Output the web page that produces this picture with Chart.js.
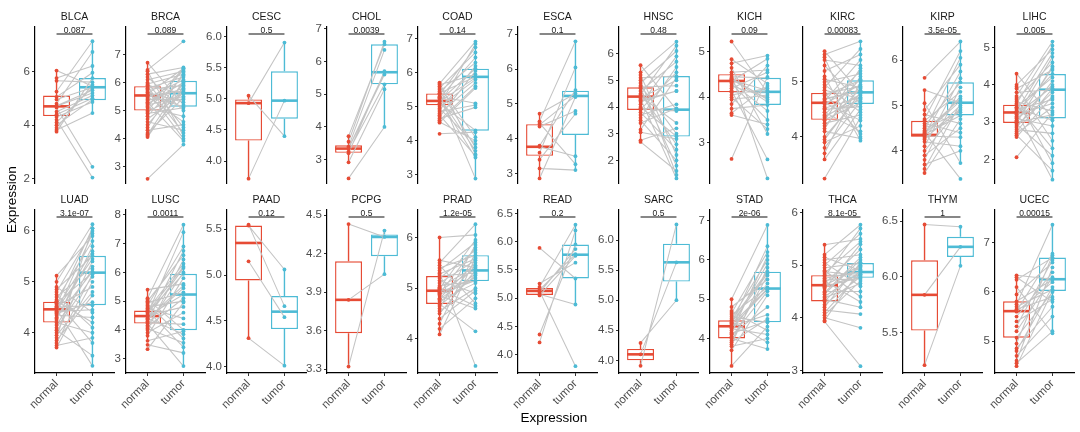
<!DOCTYPE html>
<html>
<head>
<meta charset="utf-8">
<script src="https://cdn.jsdelivr.net/npm/chart.js@4.4.1/dist/chart.umd.min.js"></script>
<style>
  html, body { margin: 0; padding: 0; background: #fff; }
  body { width: 1080px; height: 432px; position: relative; overflow: hidden; font-family: "Liberation Sans", Arial, sans-serif; }
  canvas { position: absolute; }
  .ytitle { position: absolute; left: 4px; top: 166px; width: 16px; height: 68px; writing-mode: vertical-rl; transform: rotate(180deg); font-size: 13.5px; line-height: 16px; text-align: center; color: #000; white-space: nowrap; }
  .xtitle { position: absolute; left: 504px; top: 410px; width: 100px; text-align: center; font-size: 13.5px; line-height: 16px; color: #000; white-space: nowrap; }
</style>
</head>
<body>
<script>
// ---------------- DATA ----------------
const GROUPS = ['normal', 'tumor'];
const CANCERS = ['BLCA','BRCA','CESC','CHOL','COAD','ESCA','HNSC','KICH','KIRC','KIRP','LIHC',
                 'LUAD','LUSC','PAAD','PCPG','PRAD','READ','SARC','STAD','THCA','THYM','UCEC'];
const P_LABELS = ['0.087','0.089','0.5','0.0039','0.14','0.1','0.48','0.09','0.00083','3.5e-05','0.005',
                  '3.1e-07','0.0011','0.12','0.5','1.2e-05','0.2','0.5','2e-06','8.1e-05','1','0.00015'];

// box stats: [lower whisker, q1, median, q3, upper whisker]
const BLCA_normal = [6.03,5.75,5.65,5.25,5.05,4.95,4.8,4.72,4.7,4.65,4.5,4.4,4.3,4.2,4.1,4.0,3.9,3.82,3.76];
const BLCA_tumor  = [5.45,6.2,5.6,7.12,5.95,5.4,6.72,5.3,5.2,2.45,5.1,5.0,4.86,2.05,5.4,4.95,5.5,4.45,5.75];
const BLCA_boxNormal = [3.76,4.34,4.70,5.10,6.03];
const BLCA_boxTumor  = [4.45,4.93,5.41,5.75,7.12];
const BLCA_yTicks = ['2','4','6'];
const BLCA_yRange = [1.85,7.65];

const BRCA_normal = [6.71,6.45,6.4,6.3,6.2,6.1,6.0,5.95,5.9,5.85,5.8,5.75,5.7,5.65,5.6,5.55,5.5,5.45,5.4,5.35,5.3,5.25,5.2,5.1,5.0,4.95,4.9,4.8,4.7,4.6,4.5,4.4,4.3,4.2,4.15,4.1,4.06,5.55,5.15,2.57];
const BRCA_tumor  = [5.2,7.47,4.1,6.54,5.0,6.4,4.4,6.3,5.6,4.2,6.2,5.9,4.0,5.3,6.5,5.7,4.6,6.1,5.4,5.8,3.92,6.0,5.5,4.8,6.45,5.65,5.1,6.25,5.62,4.3,5.95,6.35,4.5,5.45,6.06,5.75,5.85,5.14,6.5,3.79];
const BRCA_boxNormal = [4.06,5.0,5.54,5.87,6.71];
const BRCA_boxTumor  = [3.92,5.14,5.62,6.06,6.54];
const BRCA_yTicks = ['3','4','5','6','7'];
const BRCA_yRange = [2.42,7.98];

const CESC_normal = [4.93,5.05,3.72];
const CESC_tumor  = [5.9,4.4,4.97];
const CESC_boxNormal = [3.72,4.33,4.93,4.99,5.05];
const CESC_boxTumor  = [4.4,4.68,4.97,5.44,5.9];
const CESC_yTicks = ['4.0','4.5','5.0','5.5','6.0'];
const CESC_yRange = [3.65,6.15];

const CHOL_normal = [3.72,3.55,3.4,3.35,3.34,3.25,3.2,2.92,2.43];
const CHOL_tumor  = [6.52,6.6,6.35,5.67,5.6,5.3,5.7,5.15,4.0];
const CHOL_boxNormal = [2.92,3.21,3.34,3.44,3.75];
const CHOL_boxTumor  = [4.0,5.30,5.67,6.52,6.6];
const CHOL_yTicks = ['3','4','5','6','7'];
const CHOL_yRange = [2.29,7.05];

const COAD_normal = [5.71,5.68,5.65,5.6,5.55,5.5,5.45,5.4,5.38,5.35,5.3,5.25,5.2,5.17,5.15,5.1,5.05,5.0,4.95,4.9,4.85,4.8,4.75,4.7,4.65,4.6,4.55,4.53,5.28,4.2];
const COAD_tumor  = [3.6,6.92,5.95,4.1,6.6,3.8,6.3,5.88,2.88,6.75,5.1,6.45,3.5,6.12,5.85,4.3,6.85,5.8,3.9,6.2,5.05,5.7,3.55,6.05,4.98,5.6,4.0,5.55,3.7,4.25];
const COAD_boxNormal = [4.53,5.04,5.17,5.39,5.71];
const COAD_boxTumor  = [2.88,4.29,5.88,6.12,6.92];
const COAD_yTicks = ['3','4','5','6','7'];
const COAD_yRange = [2.75,7.35];

const ESCA_normal = [4.72,4.5,4.45,4.4,4.35,3.8,3.77,3.6,3.4,3.15,2.86];
const ESCA_tumor  = [5.3,6.8,3.27,5.23,4.8,5.4,3.5,6.05,4.72,3.1,5.2];
const ESCA_boxNormal = [2.86,3.51,3.77,4.42,4.72];
const ESCA_boxTumor  = [3.1,4.11,5.23,5.38,6.8];
const ESCA_yTicks = ['3','4','5','6','7'];
const ESCA_yRange = [2.73,7.21];

const HNSC_normal = [5.57,5.3,5.2,5.1,5.0,4.9,4.8,4.75,4.7,4.6,4.5,4.45,4.4,4.35,4.3,4.2,4.1,4.0,3.95,3.9,3.8,3.7,3.6,3.5,3.4,3.15,3.05,2.75,2.69,4.25];
const HNSC_tumor  = [3.9,6.45,2.2,5.16,1.45,6.1,3.0,4.8,1.8,5.7,2.6,6.3,3.4,5.0,1.32,4.6,5.9,2.9,3.85,5.3,2.4,4.1,5.5,2.0,3.95,5.1,2.8,3.2,1.6,4.6];
const HNSC_boxNormal = [2.69,3.89,4.39,4.74,5.57];
const HNSC_boxTumor  = [1.32,2.89,3.90,5.16,6.45];
const HNSC_yTicks = ['2','3','4','5','6'];
const HNSC_yRange = [1.15,7.0];

const KICH_normal = [5.23,4.84,4.75,4.65,4.55,4.5,4.45,4.4,4.38,4.36,4.3,4.25,4.2,4.15,4.11,4.05,4.0,3.95,3.85,3.75,3.65,3.61,4.42,4.33,2.64];
const KICH_tumor  = [4.1,4.3,4.92,3.19,4.6,2.21,4.43,3.9,4.15,4.85,3.5,4.0,4.55,2.63,4.12,4.2,3.3,4.05,4.7,3.83,4.25,3.4,3.95,3.7,4.45];
const KICH_boxNormal = [3.61,4.11,4.36,4.51,4.84];
const KICH_boxTumor  = [3.19,3.83,4.12,4.43,4.92];
const KICH_yTicks = ['3','4','5'];
const KICH_yRange = [2.11,5.55];

const KIRC_normal = [5.56,5.5,5.45,5.4,5.3,5.2,5.1,5.05,5.0,4.95,4.9,4.85,4.8,4.75,4.7,4.65,4.62,4.6,4.55,4.5,4.45,4.4,4.35,4.31,4.3,4.25,4.2,4.15,4.1,4.0,3.95,3.9,3.8,3.7,3.59,4.68,4.52,4.78,4.38,3.24];
const KIRC_tumor  = [4.8,5.74,4.0,5.3,4.6,5.5,3.93,4.9,5.15,4.45,5.6,4.7,4.05,5.03,4.83,5.4,4.3,4.95,5.2,4.55,4.1,5.05,4.78,4.62,5.25,4.4,4.88,5.1,3.97,4.75,4.81,4.2,4.65,5.0,4.5,4.85,4.72,4.92,4.68,4.35];
const KIRC_boxNormal = [3.59,4.31,4.62,4.80,5.56];
const KIRC_boxTumor  = [3.93,4.60,4.81,5.03,5.74];
const KIRC_yTicks = ['4','5'];
const KIRC_yRange = [3.16,6.0];

const KIRP_normal = [5.61,5.34,5.05,4.9,4.8,4.7,4.66,4.6,4.55,4.5,4.45,4.4,4.38,4.36,4.35,4.33,4.31,4.25,4.2,4.1,4.0,3.9,3.8,3.7,3.6,3.51,4.42,4.28];
const KIRP_tumor  = [6.41,5.06,3.73,5.9,4.6,6.2,5.3,4.4,5.51,4.85,6.05,3.38,5.1,4.78,5.75,4.3,5.2,5.0,4.1,5.6,4.95,4.5,5.4,4.0,5.05,4.7,5.15,4.9];
const KIRP_boxNormal = [3.51,4.31,4.35,4.66,5.36];
const KIRP_boxTumor  = [3.73,4.78,5.06,5.51,6.41];
const KIRP_yTicks = ['4','5','6'];
const KIRP_yRange = [3.29,6.73];

const LIHC_normal = [4.30,4.0,3.95,3.9,3.8,3.7,3.65,3.6,3.55,3.5,3.47,3.4,3.35,3.3,3.28,3.26,3.2,3.15,3.1,3.05,3.0,2.98,2.95,2.9,2.85,2.8,2.75,2.7,2.65,2.6,3.38,3.22,3.12,3.02,2.06];
const LIHC_tumor  = [3.1,4.95,2.5,4.4,3.87,5.16,1.9,4.6,3.3,5.05,2.3,4.2,3.6,4.85,1.46,4.29,3.5,4.75,2.9,4.0,3.2,4.5,2.1,3.8,4.1,2.7,3.9,3.4,1.7,3.7,3.05,3.95,3.65,4.45,3.25];
const LIHC_boxNormal = [2.6,2.98,3.26,3.47,4.30];
const LIHC_boxTumor  = [1.46,3.10,3.87,4.29,5.16];
const LIHC_yTicks = ['2','3','4','5'];
const LIHC_yRange = [1.37,5.55];

const LUAD_normal = [5.12,5.0,4.9,4.85,4.8,4.75,4.7,4.65,4.61,4.58,4.55,4.5,4.48,4.46,4.45,4.4,4.35,4.3,4.25,4.2,4.15,4.1,4.05,4.0,3.95,3.9,3.85,3.8,3.75,3.71,4.52,4.38,4.28,4.62,4.42];
const LUAD_tumor  = [5.9,6.13,4.4,5.51,6.0,4.1,5.3,5.8,3.8,5.18,6.05,4.54,5.6,3.35,5.45,5.95,4.3,5.2,5.7,4.0,5.25,5.1,3.55,5.4,4.8,6.05,4.73,5.15,3.9,5.0,4.9,4.6,5.55,4.2,4.45];
const LUAD_boxNormal = [3.71,4.20,4.46,4.61,5.12];
const LUAD_boxTumor  = [3.35,4.54,5.18,5.51,6.13];
const LUAD_yTicks = ['4','5','6'];
const LUAD_yRange = [3.21,6.41];

const LUSC_normal = [5.4,5.1,5.05,5.0,4.95,4.9,4.85,4.8,4.75,4.7,4.67,4.6,4.55,4.5,4.48,4.45,4.4,4.35,4.3,4.25,4.22,4.15,4.1,4.05,4.0,3.9,3.8,3.62,3.48,3.33,4.62,4.38];
const LUSC_tumor  = [5.6,7.66,4.0,6.6,5.3,3.7,6.9,5.0,4.4,6.3,3.4,5.95,7.4,4.8,5.23,6.15,3.85,5.45,6.75,4.2,2.74,6.0,5.1,3.55,6.45,4.6,5.8,3.95,3.2,4.95,6.2,5.55];
const LUSC_boxNormal = [3.62,4.22,4.48,4.67,5.4];
const LUSC_boxTumor  = [2.74,3.99,5.23,5.95,7.66];
const LUSC_yTicks = ['3','4','5','6','7','8'];
const LUSC_yRange = [2.5,8.17];

const PAAD_normal = [5.55,5.54,5.15,4.31];
const PAAD_tumor  = [4.66,5.06,4.54,4.01];
const PAAD_boxNormal = [4.31,4.94,5.35,5.54,5.55];
const PAAD_boxTumor  = [4.01,4.41,4.6,4.77,5.06];
const PAAD_yTicks = ['4.0','4.5','5.0','5.5'];
const PAAD_yRange = [3.93,5.71];

const PCPG_normal = [4.43,3.84,3.32];
const PCPG_tumor  = [4.33,4.04,4.38];
const PCPG_boxNormal = [3.32,3.58,3.84,4.14,4.43];
const PCPG_boxTumor  = [4.04,4.18,4.33,4.35,4.38];
const PCPG_yTicks = ['3.3','3.6','3.9','4.2','4.5'];
const PCPG_yRange = [3.27,4.54];

const PRAD_normal = [6.0,5.55,5.5,5.45,5.4,5.35,5.3,5.24,5.2,5.15,5.1,5.05,5.0,4.98,4.95,4.92,4.9,4.85,4.8,4.75,4.7,4.69,4.65,4.6,4.55,4.5,4.4,4.3,4.2,4.09,5.02,4.88,5.28,4.78];
const PRAD_tumor  = [6.05,5.4,6.26,4.7,5.65,5.9,3.47,5.3,5.75,4.9,5.55,5.14,5.95,4.65,5.37,5.2,5.8,4.6,5.5,5.1,5.45,4.15,5.25,5.85,5.0,5.35,4.95,5.7,4.8,5.6,5.42,5.15,5.58,5.28];
const PRAD_boxNormal = [4.09,4.69,4.95,5.24,6.0];
const PRAD_boxTumor  = [4.6,5.14,5.35,5.65,6.26];
const PRAD_yTicks = ['4','5','6'];
const PRAD_yRange = [3.33,6.54];

const READ_normal = [5.89,5.26,5.2,5.15,5.13,5.1,5.07,5.05,4.36,4.22];
const READ_tumor  = [5.35,5.63,6.3,5.78,3.80,5.87,4.89,5.75,5.95,6.2];
const READ_boxNormal = [5.05,5.06,5.13,5.18,5.26];
const READ_boxTumor  = [4.89,5.35,5.77,5.95,6.3];
const READ_yTicks = ['4.0','4.5','5.0','5.5','6.0','6.5'];
const READ_yRange = [3.68,6.56];

const SARC_normal = [4.29,4.1,3.91];
const SARC_tumor  = [5.0,5.63,6.26];
const SARC_boxNormal = [3.91,4.0,4.10,4.19,4.29];
const SARC_boxTumor  = [5.0,5.31,5.63,5.94,6.26];
const SARC_yTicks = ['4.0','4.5','5.0','5.5','6.0'];
const SARC_yRange = [3.79,6.5];

const STAD_normal = [5.0,4.8,4.7,4.65,4.6,4.55,4.5,4.46,4.42,4.38,4.35,4.31,4.3,4.25,4.2,4.15,4.1,4.05,4.0,3.95,3.9,3.85,3.8,3.7,3.3,4.28,4.4,4.12];
const STAD_tumor  = [6.89,5.5,4.2,6.2,5.3,4.41,6.0,5.7,3.9,6.35,5.27,4.6,5.9,4.1,5.4,6.1,4.8,5.2,3.73,5.6,4.5,5.8,4.0,5.1,4.3,5.25,5.65,4.45];
const STAD_boxNormal = [3.30,4.0,4.31,4.46,5.0];
const STAD_boxTumor  = [3.73,4.41,5.27,5.70,6.89];
const STAD_yTicks = ['4','5','6','7'];
const STAD_yRange = [3.12,7.27];

const THCA_normal = [5.39,5.2,5.15,5.1,5.05,5.0,4.95,4.9,4.85,4.81,4.78,4.75,4.7,4.65,4.62,4.6,4.55,4.5,4.45,4.4,4.35,4.31,4.25,4.2,4.15,4.1,4.05,4.0,3.95,3.93,4.68,4.58,4.72,4.48,4.38,4.88];
const THCA_tumor  = [5.5,5.77,4.9,5.2,4.6,5.6,5.04,4.4,5.45,4.82,5.7,4.87,4.3,5.3,4.95,4.76,5.4,4.5,5.1,4.88,4.2,5.0,4.78,5.05,4.07,4.85,4.7,3.81,4.92,3.08,4.98,4.83,4.74,5.15,4.65,4.8];
const THCA_boxNormal = [3.93,4.31,4.62,4.81,5.39];
const THCA_boxTumor  = [4.2,4.76,4.87,5.04,5.77];
const THCA_yTicks = ['3','4','5','6'];
const THCA_yRange = [2.95,6.05];

const THYM_normal = [6.47,5.84,5.21];
const THYM_tumor  = [6.45,6.27,6.1];
const THYM_boxNormal = [5.21,5.52,5.84,6.15,6.47];
const THYM_boxTumor  = [6.1,6.18,6.27,6.36,6.45];
const THYM_yTicks = ['5.5','6.0','6.5'];
const THYM_yRange = [5.14,6.6];

const UCEC_normal = [6.34,6.3,6.25,6.1,5.95,5.81,5.75,5.7,5.65,5.61,5.6,5.5,5.4,5.3,5.2,5.07,4.95,4.85,4.8,4.7,4.6,4.55,4.49];
const UCEC_tumor  = [6.26,5.8,6.7,5.16,6.6,6.25,7.37,6.05,5.9,6.78,6.2,6.4,5.85,6.65,6.3,6.0,6.75,5.7,6.1,5.5,6.5,5.2,6.02];
const UCEC_boxNormal = [4.49,5.07,5.61,5.81,6.34];
const UCEC_boxTumor  = [5.16,6.02,6.26,6.70,7.37];
const UCEC_yTicks = ['5','6','7'];
const UCEC_yRange = [4.35,7.67];

const PANELS = [
  [BLCA_normal,BLCA_tumor,BLCA_boxNormal,BLCA_boxTumor,BLCA_yTicks,BLCA_yRange],
  [BRCA_normal,BRCA_tumor,BRCA_boxNormal,BRCA_boxTumor,BRCA_yTicks,BRCA_yRange],
  [CESC_normal,CESC_tumor,CESC_boxNormal,CESC_boxTumor,CESC_yTicks,CESC_yRange],
  [CHOL_normal,CHOL_tumor,CHOL_boxNormal,CHOL_boxTumor,CHOL_yTicks,CHOL_yRange],
  [COAD_normal,COAD_tumor,COAD_boxNormal,COAD_boxTumor,COAD_yTicks,COAD_yRange],
  [ESCA_normal,ESCA_tumor,ESCA_boxNormal,ESCA_boxTumor,ESCA_yTicks,ESCA_yRange],
  [HNSC_normal,HNSC_tumor,HNSC_boxNormal,HNSC_boxTumor,HNSC_yTicks,HNSC_yRange],
  [KICH_normal,KICH_tumor,KICH_boxNormal,KICH_boxTumor,KICH_yTicks,KICH_yRange],
  [KIRC_normal,KIRC_tumor,KIRC_boxNormal,KIRC_boxTumor,KIRC_yTicks,KIRC_yRange],
  [KIRP_normal,KIRP_tumor,KIRP_boxNormal,KIRP_boxTumor,KIRP_yTicks,KIRP_yRange],
  [LIHC_normal,LIHC_tumor,LIHC_boxNormal,LIHC_boxTumor,LIHC_yTicks,LIHC_yRange],
  [LUAD_normal,LUAD_tumor,LUAD_boxNormal,LUAD_boxTumor,LUAD_yTicks,LUAD_yRange],
  [LUSC_normal,LUSC_tumor,LUSC_boxNormal,LUSC_boxTumor,LUSC_yTicks,LUSC_yRange],
  [PAAD_normal,PAAD_tumor,PAAD_boxNormal,PAAD_boxTumor,PAAD_yTicks,PAAD_yRange],
  [PCPG_normal,PCPG_tumor,PCPG_boxNormal,PCPG_boxTumor,PCPG_yTicks,PCPG_yRange],
  [PRAD_normal,PRAD_tumor,PRAD_boxNormal,PRAD_boxTumor,PRAD_yTicks,PRAD_yRange],
  [READ_normal,READ_tumor,READ_boxNormal,READ_boxTumor,READ_yTicks,READ_yRange],
  [SARC_normal,SARC_tumor,SARC_boxNormal,SARC_boxTumor,SARC_yTicks,SARC_yRange],
  [STAD_normal,STAD_tumor,STAD_boxNormal,STAD_boxTumor,STAD_yTicks,STAD_yRange],
  [THCA_normal,THCA_tumor,THCA_boxNormal,THCA_boxTumor,THCA_yTicks,THCA_yRange],
  [THYM_normal,THYM_tumor,THYM_boxNormal,THYM_boxTumor,THYM_yTicks,THYM_yRange],
  [UCEC_normal,UCEC_tumor,UCEC_boxNormal,UCEC_boxTumor,UCEC_yTicks,UCEC_yRange]
];

// ---------------- STYLE / LAYOUT ----------------
const COLORS = ['#E64B35', '#4DBBD5'];
const LINE_GREY = '#c4c4c4';
const FONT = '"Liberation Sans", Arial, sans-serif';
const COLS = [35,126,227,327,418,518,619,710,803,903,995];
const PANEL_W = 79;
const PAD_L = 32, PAD_R = 4;
const ROWS = [
  { top: 27,  h: 160, padT: 27, padB: 0,  xaxis: false },
  { top: 210, h: 163, padT: 22, padB: 50, xaxis: true }
];
const BOX_HALF = 0.375;

function makeChart(idx) {
  const [nv, tv, bn, bt, yTicks, yRange] = PANELS[idx];
  const row = idx < 11 ? 0 : 1;
  const col = idx % 11;
  const R = ROWS[row];
  const W = PAD_L + PANEL_W + PAD_R;
  const H = R.padT + R.h + R.padB;
  const canvas = document.createElement('canvas');
  canvas.width = W; canvas.height = H;
  canvas.style.width = W + 'px'; canvas.style.height = H + 'px';
  canvas.style.left = (COLS[col] - PAD_L) + 'px';
  canvas.style.top = (R.top - R.padT) + 'px';
  document.body.appendChild(canvas);

  const boxes = [bn, bt];
  const datasets = [];
  datasets.push({
    type: 'bar',
    data: boxes.map((b, g) => ({ x: g + 1, y: [b[1], b[3]] })),
    backgroundColor: '#ffffff',
    borderColor: COLORS,
    borderWidth: 1.4,
    borderSkipped: false,
    categoryPercentage: 1,
    barPercentage: 0.75,
    grouped: false,
    order: 10
  });
  boxes.forEach((b, g) => {
    datasets.push({
      type: 'line',
      data: [{x: g+1, y: b[0]}, {x: g+1, y: b[1]}, {x: g+1, y: null}, {x: g+1, y: b[3]}, {x: g+1, y: b[4]}],
      borderColor: COLORS[g], borderWidth: 1.4, pointRadius: 0, spanGaps: false, fill: false, order: 9
    });
    datasets.push({
      type: 'line',
      data: [{x: g+1-BOX_HALF, y: b[2]}, {x: g+1+BOX_HALF, y: b[2]}],
      borderColor: COLORS[g], borderWidth: 2.6, pointRadius: 0, fill: false, order: 8
    });
  });
  const pairs = [];
  nv.forEach((v, k) => { pairs.push({x: 1, y: v}, {x: 2, y: tv[k]}, {x: 1.5, y: null}); });
  datasets.push({
    type: 'line', data: pairs, borderColor: LINE_GREY, borderWidth: 1.05,
    pointRadius: 0, spanGaps: false, fill: false, order: 5
  });
  [nv, tv].forEach((arr, g) => {
    datasets.push({
      type: 'scatter', data: arr.map(v => ({x: g + 1, y: v})),
      backgroundColor: COLORS[g], borderWidth: 0, pointRadius: 1.9, order: 1
    });
  });

  const name = CANCERS[idx], pLabel = P_LABELS[idx];
  const annot = {
    id: 'annot' + idx,
    afterDraw(chart) {
      const { ctx, chartArea, scales } = chart;
      const x1 = scales.x.getPixelForValue(1), x2 = scales.x.getPixelForValue(2);
      ctx.save();
      ctx.fillStyle = '#1a1a1a';
      ctx.textAlign = 'center';
      ctx.textBaseline = 'middle';
      ctx.font = '10.5px ' + FONT;
      ctx.fillText(name, (chartArea.left + chartArea.right) / 2, chartArea.top - 10);
      const yb = chartArea.top + 7;
      ctx.strokeStyle = '#111';
      ctx.lineWidth = 1.1;
      ctx.beginPath(); ctx.moveTo(x1, yb); ctx.lineTo(x2, yb); ctx.stroke();
      ctx.font = '8.5px ' + FONT;
      ctx.textBaseline = 'alphabetic';
      ctx.fillText(pLabel, (x1 + x2) / 2, yb - 1.5);
      ctx.restore();
    }
  };

  const tickFont = { family: FONT, size: 11.5 };
  new Chart(canvas, {
    type: 'bar',
    data: { datasets },
    options: {
      responsive: false,
      animation: false,
      devicePixelRatio: 1,
      events: [],
      layout: { padding: { top: R.padT, right: PAD_R, bottom: 0, left: 0 } },
      plugins: { legend: { display: false }, tooltip: { enabled: false } },
      scales: {
        x: {
          type: 'linear', min: 0.4, max: 2.6, offset: false, display: R.xaxis,
          afterBuildTicks: s => { s.ticks = GROUPS.map((g, i) => ({ value: i + 1 })); },
          afterFit: s => { s.height = R.padB; s.paddingLeft = 0; s.paddingRight = 0; },
          grid: { display: true, offset: false, drawOnChartArea: false, drawTicks: true, tickLength: 3, color: '#333', lineWidth: 1 },
          border: { display: true, color: '#000', width: 1.2 },
          ticks: { autoSkip: false, minRotation: 45, maxRotation: 45, padding: 1, color: '#4d4d4d', font: tickFont,
                   callback: (v, i) => GROUPS[i] }
        },
        y: {
          type: 'linear', min: yRange[0], max: yRange[1],
          afterBuildTicks: s => { s.ticks = yTicks.map(t => ({ value: parseFloat(t) })); },
          afterFit: s => { s.width = PAD_L; s.paddingTop = 0; s.paddingBottom = 0; },
          grid: { display: true, offset: false, drawOnChartArea: false, drawTicks: true, tickLength: 3, color: '#333', lineWidth: 1 },
          border: { display: true, color: '#000', width: 1.2 },
          ticks: { padding: 2, color: '#4d4d4d', font: tickFont, callback: (v, i) => yTicks[i] }
        }
      }
    },
    plugins: [annot]
  });
}

for (let i = 0; i < PANELS.length; i++) makeChart(i);

const yt = document.createElement('div'); yt.className = 'ytitle'; yt.textContent = 'Expression'; document.body.appendChild(yt);
const xt = document.createElement('div'); xt.className = 'xtitle'; xt.textContent = 'Expression'; document.body.appendChild(xt);
</script>
</body>
</html>
